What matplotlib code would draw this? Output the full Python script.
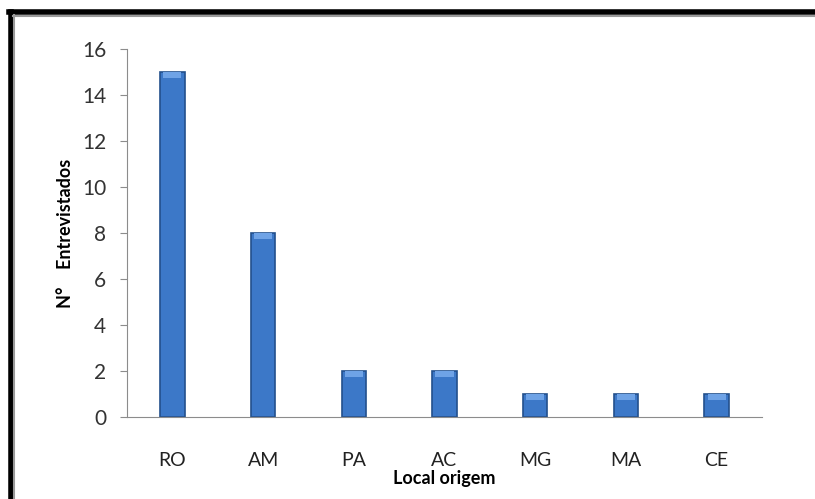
import matplotlib
matplotlib.use("Agg")
import matplotlib.pyplot as plt
from matplotlib.lines import Line2D

plt.rcParams['font.family'] = ['Lato', 'DejaVu Sans']

categories = ["RO", "AM", "PA", "AC", "MG", "MA", "CE"]
entrevistados = [15, 8, 2, 2, 1, 1, 1]
yticks = [0, 2, 4, 6, 8, 10, 12, 14, 16]

fig = plt.figure(figsize=(8.15, 4.99), dpi=100)
ax = fig.add_axes([127 / 815, 82 / 499, 635 / 815, 368 / 499])

x = range(len(categories))
ax.bar(x, entrevistados, width=0.27, color="#3c78c8", edgecolor="#23508c", linewidth=1.2, zorder=2)
# lighter cap on the top of each bar
ax.bar(x, [0.25] * len(x), bottom=[v - 0.25 for v in entrevistados], width=0.2,
       color="#6fa3e6", linewidth=0, zorder=3)

ax.set_xlim(-0.5, len(categories) - 0.5)
ax.set_ylim(0, 16)
ax.set_yticks(yticks)
ax.set_xticks(list(x))
ax.set_xticklabels(categories)

for side in ["top", "right"]:
    ax.spines[side].set_visible(False)
ax.spines["left"].set_color("#8c8c8c")
ax.spines["bottom"].set_color("#8c8c8c")
ax.tick_params(axis="y", colors="#8c8c8c", labelcolor="#333333", labelsize=15, length=5, pad=10)
ax.tick_params(axis="x", length=0, labelcolor="#222222", labelsize=14, pad=25)

ax.set_xlabel("Local origem", fontsize=13, fontweight="bold", labelpad=1)
ax.set_ylabel("N°    Entrevistados", fontsize=13, fontweight="bold", labelpad=6)

# frame on top and left like the source
fig.add_artist(Line2D([10.5 / 815, 10.5 / 815], [0, 1 - 12 / 499], transform=fig.transFigure, color="black", linewidth=4))
fig.add_artist(Line2D([9 / 815, 1], [1 - 12 / 499, 1 - 12 / 499], transform=fig.transFigure, color="black", linewidth=4))
fig.add_artist(Line2D([14 / 815, 14 / 815], [0, 1 - 15 / 499], transform=fig.transFigure, color="#999999", linewidth=1.5))
fig.add_artist(Line2D([13 / 815, 1], [1 - 15.5 / 499, 1 - 15.5 / 499], transform=fig.transFigure, color="#999999", linewidth=1.5))

fig.savefig("out.png", dpi=100)
